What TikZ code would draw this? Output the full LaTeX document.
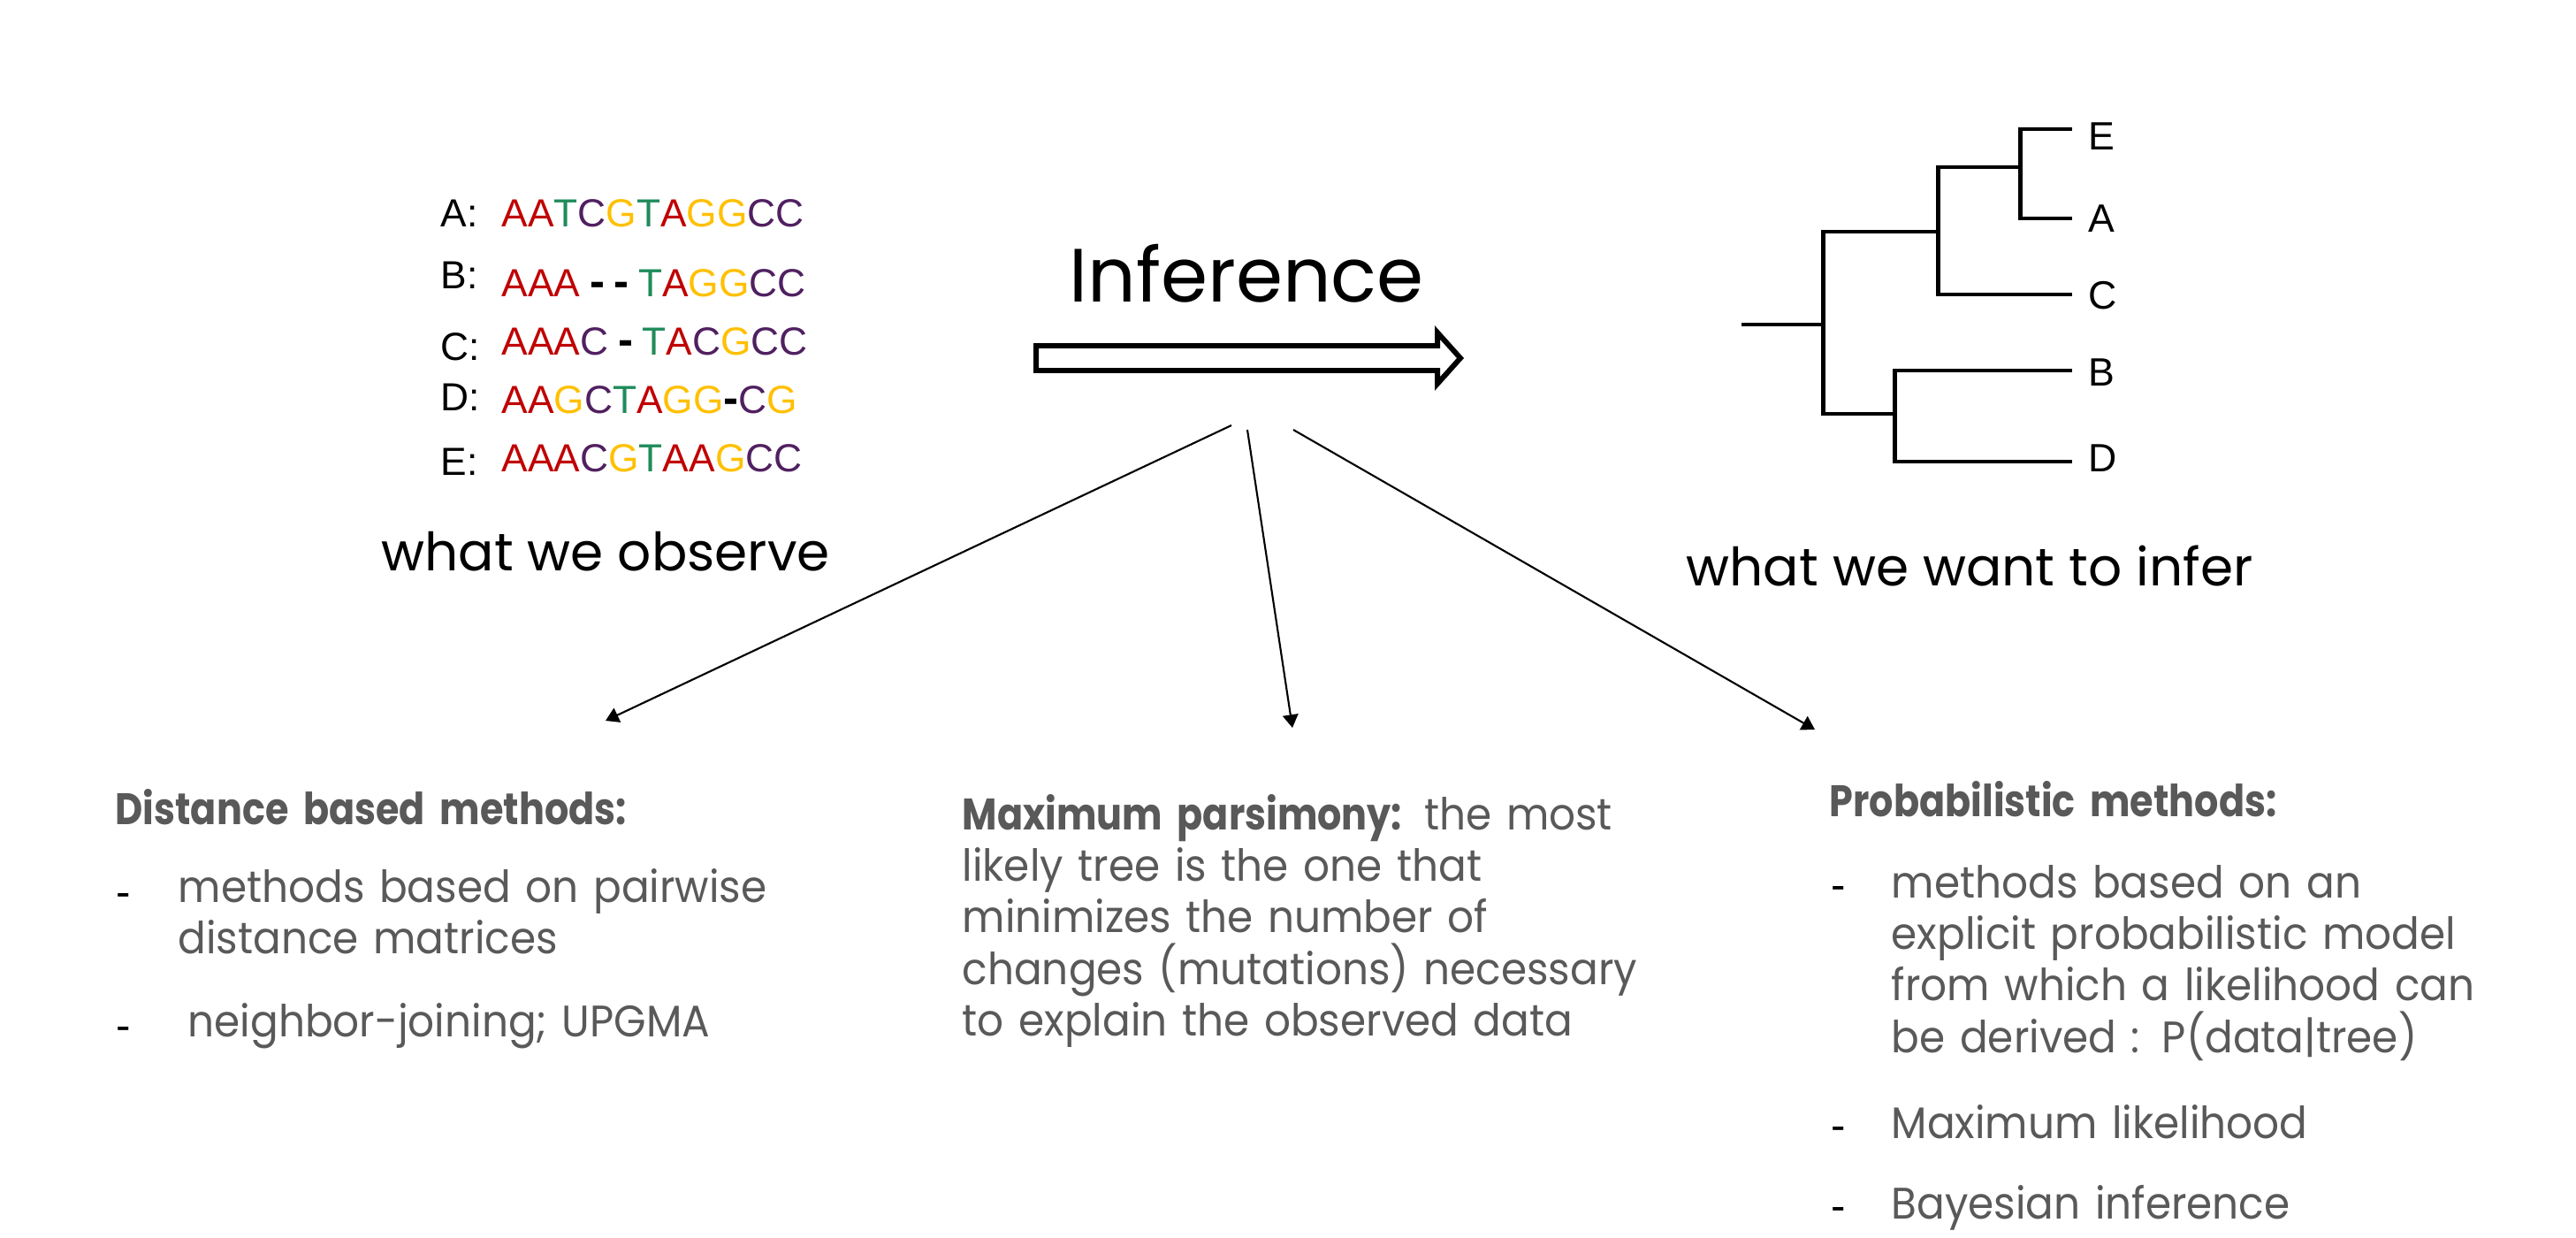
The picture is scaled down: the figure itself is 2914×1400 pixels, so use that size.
\documentclass[tikz,border=0pt]{standalone}
\usepackage{fontspec}
\setmainfont{Poppins}
\newfontfamily\bodyfont{Poppins}[FakeStretch=0.94, BoldFeatures={FakeStretch=0.86}]
\newfontfamily\arialfont{Liberation Sans}
\usetikzlibrary{arrows.meta}
\definecolor{ntA}{HTML}{C00000}
\definecolor{ntT}{HTML}{1F8B5B}
\definecolor{ntC}{HTML}{502060}
\definecolor{ntG}{HTML}{FFC000}
\definecolor{bodygray}{HTML}{595959}
\newcommand\nuA{\textcolor{ntA}{A}}
\newcommand\nuT{\textcolor{ntT}{T}}
\newcommand\nuC{\textcolor{ntC}{C}}
\newcommand\nuG{\textcolor{ntG}{G}}
\newcommand\nugap{{\fontsize{14.5pt}{15pt}\selectfont\bfseries -}}
\newcommand\nusp{\hspace{0.24em}}
\begin{document}
\begin{tikzpicture}[x=0.01cm,y=-0.01cm,
  seqtxt/.style={font=\arialfont\fontsize{12.6pt}{15pt}\selectfont, inner sep=0pt, anchor=base west},
  leaftxt/.style={font=\arialfont\fontsize{12.7pt}{15pt}\selectfont, inner sep=0pt, anchor=base west},
  bodytxt/.style={font=\bodyfont\fontsize{14.2pt}{16.6pt}\selectfont, text=bodygray, inner sep=0pt, anchor=base west, align=left, text width=12cm},
  bullettxt/.style={font=\arialfont\fontsize{14pt}{16pt}\selectfont, inner sep=0pt, anchor=base west},
  captiontxt/.style={font=\fontsize{17pt}{20pt}\selectfont, inner sep=0pt, anchor=base},
  thinarrow/.style={line width=0.6pt, -{Triangle[length=4.2pt,width=5pt]}},
  treeline/.style={line width=1.42pt},
  blockarrow/.style={draw, fill=white, line width=1.7pt, miter limit=10}]
\useasboundingbox (0,0) rectangle (2914,1400);

% sequences
\node[seqtxt] (labA) at (498,257) {A:};
\node[seqtxt] (labB) at (498,327) {B:};
\node[seqtxt] (labC) at (498,407) {C:};
\node[seqtxt] (labD) at (498,465) {D:};
\node[seqtxt] (labE) at (498,537) {E:};
\node[seqtxt] (seqA) at (567,257) {\nuA\nuA\nuT\nuC\nuG\nuT\nuA\nuG\nuG\nuC\nuC};
\node[seqtxt] (seqB) at (567,335) {\nuA\nuA\nuA\nusp\nugap\nusp\nugap\nusp\nuT\nuA\nuG\nuG\nuC\nuC};
\node[seqtxt] (seqC) at (567,402) {\nuA\nuA\nuA\nuC\nusp\nugap\nusp\nuT\nuA\nuC\nuG\nuC\nuC};
\node[seqtxt] (seqD) at (567,468) {\nuA\nuA\nuG\nuC\nuT\nuA\nuG\nuG\nugap\nuC\nuG};
\node[seqtxt] (seqE) at (567,533) {\nuA\nuA\nuA\nuC\nuG\nuT\nuA\nuA\nuG\nuC\nuC};
\node[captiontxt] (obs) at (685,645) {what we observe};

% inference arrow
\node[font=\fontsize{24.3pt}{29pt}\selectfont, inner sep=0pt, anchor=base] (inf) at (1410,342) {Inference};
\draw[blockarrow] (1172,391) -- (1626,391) -- (1626,376) -- (1652,405) -- (1626,434) -- (1626,419) -- (1172,419) -- cycle;

% tree
\coordinate (r0) at (1970,367);
\coordinate (n1) at (2062,367);
\coordinate (n2) at (2192,262);
\coordinate (n3) at (2285,189);
\coordinate (n4) at (2143,468);
\coordinate (eE) at (2344,146);
\coordinate (eA) at (2344,247);
\coordinate (eC) at (2344,333);
\coordinate (eB) at (2344,419);
\coordinate (eD) at (2344,522);
\draw[treeline] (r0) -- (n1);
\draw[treeline] (n1) |- (n2);
\draw[treeline] (n1) |- (n4);
\draw[treeline] (n2) |- (n3);
\draw[treeline] (n2) |- (eC);
\draw[treeline] (n3) |- (eE);
\draw[treeline] (n3) |- (eA);
\draw[treeline] (n4) |- (eB);
\draw[treeline] (n4) |- (eD);
\node[leaftxt] (tE) at (2362,170) {E};
\node[leaftxt] (tA) at (2362,263) {A};
\node[leaftxt] (tC) at (2362,350) {C};
\node[leaftxt] (tB) at (2362,436) {B};
\node[leaftxt] (tD) at (2362,533) {D};
\node[captiontxt] (want) at (2228,662) {what we want to infer};

% thin arrows
\coordinate (s1) at (1393,481);
\coordinate (s2) at (1411,486);
\coordinate (s3) at (1463,486);
\coordinate (t1) at (685,815);
\coordinate (t2) at (1462,823);
\coordinate (t3) at (2053,825);
\draw[thinarrow] (s1) -- (t1);
\draw[thinarrow] (s2) -- (t2);
\draw[thinarrow] (s3) -- (t3);

% left block
\node[bodytxt] (dh) at (130,932) {\textbf{Distance based methods:}};
\node[bullettxt] (db1) at (131,1025) {-};
\node[bodytxt] (di1) at (201,1020) {methods based on pairwise\\distance matrices};
\node[bullettxt] (db2) at (131,1176) {-};
\node[bodytxt] (di2) at (212,1172) {neighbor-joining; UPGMA};

% middle block
\node[bodytxt] (mp) at (1088,938) {\textbf{Maximum parsimony:} the most\\likely tree is the one that\\minimizes the number of\\changes (mutations) necessary\\to explain the observed data};

% right block
\node[bodytxt] (ph) at (2069,923) {\textbf{Probabilistic methods:}};
\node[bullettxt] (pb1) at (2071,1017) {-};
\node[bodytxt] (pi1) at (2139,1015) {methods based on an\\explicit probabilistic model\\from which a likelihood can\\be derived : P(data|tree)};
\node[bullettxt] (pb2) at (2071,1289) {-};
\node[bodytxt] (pi2) at (2139,1287) {Maximum likelihood};
\node[bullettxt] (pb3) at (2071,1380) {-};
\node[bodytxt] (pi3) at (2139,1378) {Bayesian inference};
\end{tikzpicture}
\end{document}
